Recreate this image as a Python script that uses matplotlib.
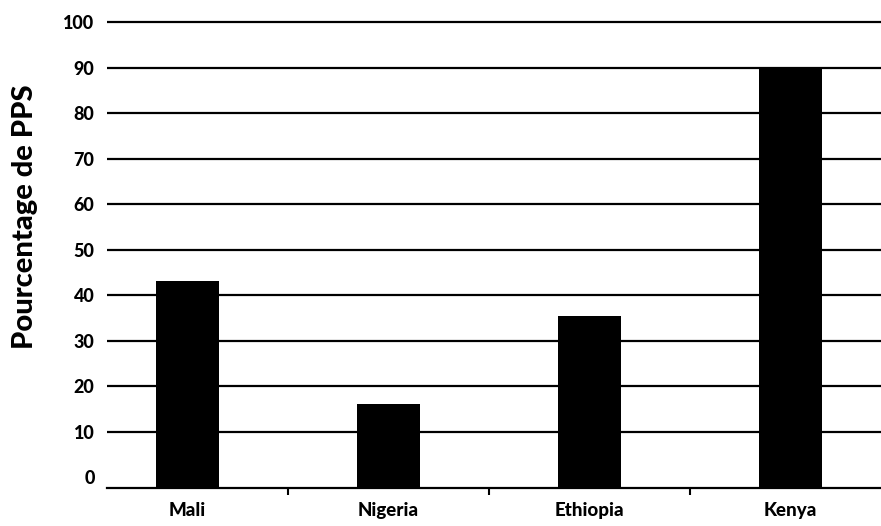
import matplotlib.pyplot as plt
import numpy as np

plt.rcParams['font.family'] = ['Lato', 'DejaVu Sans']

# données
pays = ['Mali', 'Nigeria', 'Ethiopia', 'Kenya']
pourcentages = [43, 16, 35.5, 90]
graduations = [0, 10, 20, 30, 40, 50, 60, 70, 80, 90, 100]

fig = plt.figure(figsize=(8.81, 5.26), dpi=100)
ax = fig.add_axes([0.1215, 0.072, 0.8785, 0.8905])

bas = -2.4
x = np.arange(len(pays))
ax.bar(x, [v - bas for v in pourcentages], bottom=bas, width=0.31,
       color='black', zorder=3)

ax.set_ylim(bas, 100.5)
ax.set_xlim(-0.4, 3.45)

# lignes horizontales (pas à 0)
ax.set_yticks(graduations)
ax.set_yticklabels([str(g) for g in graduations], fontsize=13, fontweight='black')
for g in graduations[1:]:
    ax.axhline(g, color='black', lw=1.6, zorder=1)
ax.tick_params(axis='y', length=0, pad=9)

# x : graduations entre les barres, étiquettes centrées
ax.set_xticks(x[:-1] + 0.5)
ax.set_xticklabels([])
ax.set_xticks(x, minor=True)
ax.set_xticklabels(pays, minor=True, fontsize=13.5, fontweight='black')
ax.tick_params(axis='x', which='major', length=5, width=1.5, direction='out')
ax.tick_params(axis='x', which='minor', length=0, pad=10)

for s in ['top', 'right', 'left']:
    ax.spines[s].set_visible(False)
ax.spines['bottom'].set_linewidth(1.6)

ax.set_ylabel('Pourcentage de PPS', fontsize=21, fontweight='black')
ax.yaxis.set_label_coords(-0.089, 0.579)

fig.savefig('out.png', dpi=100)
